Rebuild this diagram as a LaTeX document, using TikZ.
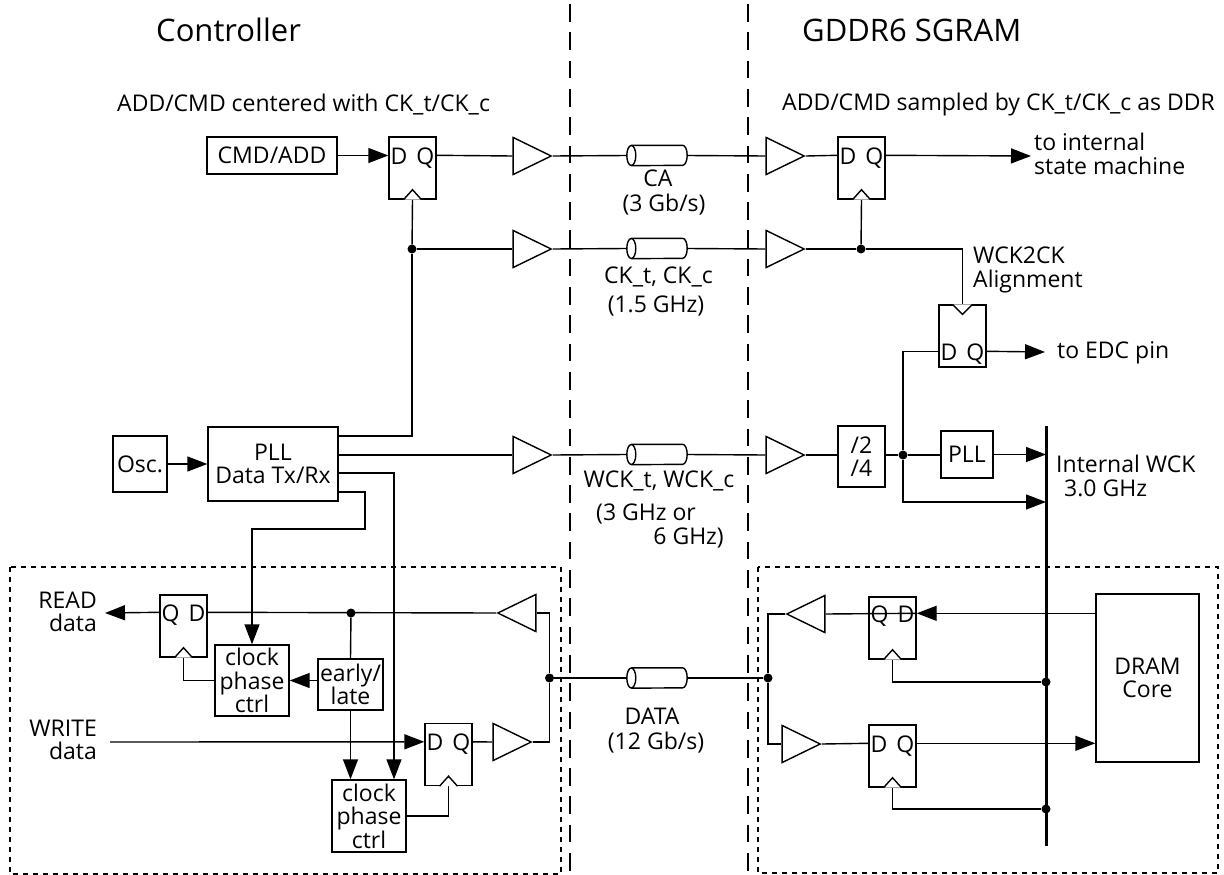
\documentclass[tikz,border=0pt]{standalone}
\usepackage{fontspec}
\setmainfont{Open Sans}
\usepackage{xcolor}
\usetikzlibrary{arrows.meta}
\usetikzlibrary{calc}
\usetikzlibrary{shapes.geometric}
\newcommand\txtfont{\fontsize{23}{23.5}\selectfont}
\newcommand\hdrfont{\fontsize{31}{34}\selectfont}
\tikzstyle{wire}=[line width=1.4pt]
\tikzstyle{sig}=[wire,-{Triangle[length=20pt,width=15pt]}]
\tikzstyle{bus}=[line width=3pt]
\tikzstyle{lane}=[wire,dash pattern=on 17.7pt off 10.6pt,dash phase=24.3pt]
\tikzstyle{frame}=[wire,dash pattern=on 5pt off 5pt]
\tikzstyle{lab}=[inner sep=0pt,align=center,font=\txtfont]
\tikzstyle{hdr}=[inner sep=0pt,anchor=west,font=\hdrfont]
\tikzstyle{blk}=[wire,draw,inner sep=0pt,align=center,font=\txtfont]
\tikzstyle{flopbox}=[wire,draw,inner sep=0pt,minimum width=47pt,minimum height=62pt]
\tikzstyle{buf}=[wire,draw,isosceles triangle,isosceles triangle stretches,inner sep=0pt,minimum width=37pt,minimum height=38pt,anchor=apex]
\tikzstyle{bufl}=[buf,shape border rotate=180]
\tikzstyle{cable}=[inner sep=0pt,minimum width=60pt,minimum height=20pt]
\tikzstyle{jct}=[circle,fill=black,inner sep=0pt,minimum size=9pt]
% [D/Q offset], name, centre x, centre y, text
\newcommand\flop[5][19pt]{%
	\node[flopbox] (#2) at (#3,#4) {};
	\node[lab] (#2txt) at ([yshift=-#1,yshift=-2.5pt]#2.north) {#5};
	\coordinate (#2l) at ([yshift=-#1]#2.north west);
	\coordinate (#2r) at ([yshift=-#1]#2.north east);
}
\newcommand\notchup[1]{\draw[wire,fill=white] ([xshift=-9pt]#1.south) -- ([yshift=10pt]#1.south) -- ([xshift=9pt]#1.south);}
% name, centre x, centre y
\newcommand\cableseg[3]{%
	\node[cable] (#1) at (#2,#3) {};
	\draw[wire] ([xshift=4.5pt]#1.west) ellipse[x radius=4.5pt,y radius=10pt];
	\draw[wire] ([xshift=4.5pt]#1.north west) -- ([xshift=-4.5pt]#1.north east) arc[start angle=90,end angle=-90,x radius=4.5pt,y radius=10pt] -- ([xshift=4.5pt]#1.south west);
}
\begin{document}
\begin{tikzpicture}[x=1pt,y=-1pt]
	\useasboundingbox (0,0) rectangle (1224,875);
	\coordinate (lanelt) at (570,0);
	\coordinate (lanelb) at (570,875);
	\coordinate (lanert) at (748,0);
	\coordinate (lanerb) at (748,875);
	\draw[lane] (lanelt) -- (lanelb);
	\draw[lane] (lanert) -- (lanerb);
	\draw[frame] (10,567) rectangle (561,874);
	\draw[frame] (758,567) rectangle (1218,873);
	%
	\node[hdr] (hctl) at (156,30) {Controller};
	\node[hdr] (hmem) at (802,30) {GDDR6 SGRAM};
	\node[lab,anchor=west] (nctl) at (117,105) {ADD/CMD centered with CK\_t/CK\_c};
	\node[lab,anchor=west] (nmem) at (782,105) {ADD/CMD sampled by CK\_t/CK\_c as DDR};
	%
	\node[blk,minimum width=130pt,minimum height=37pt] (cmd) at (272,155.5) {CMD/ADD};
	\node[blk,minimum width=54pt,minimum height=56pt] (osc) at (140,464) {Osc.};
	\node[blk,minimum width=130pt,minimum height=74pt] (pll) at (273,464) {PLL\\Data Tx/Rx};
	\node[blk,minimum width=74pt,minimum height=71pt] (cpa) at (252,680.5) {clock\\phase\\ctrl};
	\node[blk,minimum width=74pt,minimum height=72pt] (cpb) at (369,816) {clock\\phase\\ctrl};
	\node[blk,minimum width=65pt,minimum height=51pt] (elate) at (350.5,684.5) {early/\\late};
	\node[blk,minimum width=47pt,minimum height=61pt] (div) at (861.5,456.5) {/2\\/4};
	\node[blk,minimum width=52pt,minimum height=47pt] (pllm) at (967,454.5) {PLL};
	\node[blk,minimum width=103pt,minimum height=168pt] (core) at (1147.5,678) {DRAM\\Core};
	%
	\flop{ffa}{412.5}{168}{D\hspace{9pt}Q}
	\flop[18pt]{ffr}{183.5}{626}{Q\hspace{9pt}D}
	\flop{ffw}{448.5}{754.5}{D\hspace{9pt}Q}
	\flop{ffb}{861.5}{168}{D\hspace{9pt}Q}
	\flop[47pt]{ffe}{962.5}{336}{D\hspace{9pt}Q}
	\flop[17pt]{ffu}{892.5}{628}{Q\hspace{9pt}D}
	\flop{ffv}{892.5}{756}{D\hspace{9pt}Q}
	%
	\node[buf] (bufa) at (553,156) {};
	\node[buf] (bufb) at (553,249) {};
	\node[buf] (bufc) at (553,455) {};
	\node[buf] (bufd) at (806,156) {};
	\node[buf] (bufe) at (806,249) {};
	\node[buf] (buff) at (806,455) {};
	\node[bufl] (bufr) at (496,613) {};
	\node[buf] (bufw) at (533,742) {};
	\node[bufl] (bufu) at (785,614) {};
	\node[buf] (bufv) at (822,744) {};
	%
	\cableseg{cba}{657}{155.5}
	\cableseg{cbb}{657}{248.5}
	\cableseg{cbc}{657}{454.5}
	\cableseg{cbd}{657}{678}
	%
	\node[jct] (jcta) at (412,249) {};
	\node[jct] (jctb) at (351,613) {};
	\node[jct] (jctc) at (549.5,678) {};
	\node[jct] (jctd) at (768,678) {};
	\node[jct] (jcte) at (861,249) {};
	\node[jct] (jctf) at (903,455) {};
	\node[jct] (jctg) at (1046,682) {};
	\node[jct] (jcth) at (1046,809) {};
	%
	\coordinate (bartop) at (1046,426);
	\coordinate (barbot) at (1046,846);
	\coordinate (bartap) at (1046,502);
	\coordinate (bend) at (365,529);
	\coordinate (rdout) at (105,613);
	\coordinate (wrin) at (110,742);
	\coordinate (toint) at (1031,156);
	\coordinate (toedc) at (1045,352);
	\draw[bus] (bartop) -- (barbot);
	%
	\draw[sig] (cmd.east) -- (ffa.west |- cmd.east);
	\draw[sig] (osc.east) -- (pll.west |- osc.east);
	\draw[wire] (ffar) -- (bufa.lower side);
	\draw[wire] (jcta) -- (ffa.south);
	\draw[wire] (jcta) -- (bufb.lower side);
	\draw[wire] ([yshift=28pt]pll.east) -| (jcta);
	\draw[wire] ([yshift=9pt]pll.east) -- (bufc.lower side);
	\draw[sig] ([yshift=-28pt]pll.east) -| (bend) -| (cpa.north);
	\draw[sig] ([yshift=-9pt]pll.east) -| ([xshift=25pt]cpb.north);
	%
	\draw[wire] (bufa.apex) -- (cba.west);
	\draw[wire] (bufb.apex) -- (cbb.west);
	\draw[wire] (bufc.apex) -- (cbc.west);
	\draw[wire] (cba.east) -- (bufd.lower side);
	\draw[wire] (cbb.east) -- (bufe.lower side);
	\draw[wire] (cbc.east) -- (buff.lower side);
	\draw[wire] (jctc) -- (cbd.west);
	\draw[wire] (cbd.east) -- (jctd);
	%
	\draw[wire] (bufd.apex) -- (ffbl);
	\draw[sig] (ffbr) -- (toint);
	\draw[wire] (bufe.apex) -- (jcte);
	\draw[wire] (jcte) -- (ffb.south);
	\draw[wire] (jcte) -| (ffe.north);
	\draw[wire] (buff.apex) -- (div.west |- buff.apex);
	\draw[wire] (div.east |- jctf) -- (jctf);
	\draw[wire] (jctf) -- (pllm.west |- jctf);
	\draw[wire] (jctf) |- (ffel);
	\draw[sig] (jctf) |- (bartap);
	\draw[sig] (pllm.east) -- (pllm.east -| bartop);
	\draw[sig] (ffer) -- (toedc);
	%
	\draw[sig] (ffrl) -- (rdout);
	\draw[wire] (bufr.apex) -- (ffrr);
	\draw[wire] (bufr.lower side) -| (jctc);
	\draw[wire] (bufw.apex) -| (jctc);
	\draw[wire] (ffwr) -- (bufw.lower side);
	\draw[sig] (wrin) -- (ffwl);
	\draw[wire] (jctb) -- (elate.north);
	\draw[sig] (cpa.east -| elate.west) -- (cpa.east);
	\draw[wire] (cpa.west) -| (ffr.south);
	\draw[sig] (elate.south) -- ([xshift=-18.5pt]cpb.north);
	\draw[wire] (cpb.east) -| (ffw.south);
	%
	\draw[wire] (bufu.apex) -| (jctd);
	\draw[wire] (bufv.lower side) -| (jctd);
	\draw[wire] (bufu.lower side) -- (ffur);
	\draw[wire] (bufv.apex) -- (ffvl);
	\draw[sig] (core.west |- ffur) -- (ffu.east |- ffur);
	\draw[sig] (ffvr) -- (core.west |- ffvr);
	\draw[wire] (ffu.south) |- (jctg);
	\draw[wire] (ffv.south) |- (jcth);
	%
	\notchup{ffa}
	\notchup{ffr}
	\notchup{ffw}
	\notchup{ffb}
	\notchup{ffu}
	\notchup{ffv}
	\draw[wire,fill=white] ([xshift=-10pt]ffe.north) -- ([yshift=-10pt]ffe.north) -- ([xshift=10pt]ffe.north);
	%
	\node[lab] (lca) at (658,178) {CA};
	\node[lab] (lcar) at (664,205) {(3 Gb/s)};
	\node[lab] (lck) at (658.5,277) {CK\_t, CK\_c};
	\node[lab] (lckr) at (656,306) {(1.5 GHz)};
	\node[lab] (lwck) at (659,481) {WCK\_t, WCK\_c};
	\node[lab,anchor=west] (lwa) at (596,514) {(3 GHz or};
	\node[lab,anchor=east] (lwb) at (724,538) {6 GHz)};
	\node[lab] (ldat) at (652,716) {DATA};
	\node[lab] (ldatr) at (656,743) {(12 Gb/s)};
	\node[lab,align=left,anchor=west] (lint) at (1034,154) {to internal\\state machine};
	\node[lab,align=left,anchor=west] (lwck2) at (973,270) {WCK2CK\\Alignment};
	\node[lab,anchor=west] (ledc) at (1057,353) {to EDC pin};
	\node[lab,align=left,anchor=west] (liwk) at (1056,476) {Internal WCK\\\hspace{8pt}3.0 GHz};
	\node[lab,align=right,anchor=east] (lrd) at (97,612) {READ\\data};
	\node[lab,align=right,anchor=east] (lwr) at (97,740) {WRITE\\data};
\end{tikzpicture}
\end{document}
